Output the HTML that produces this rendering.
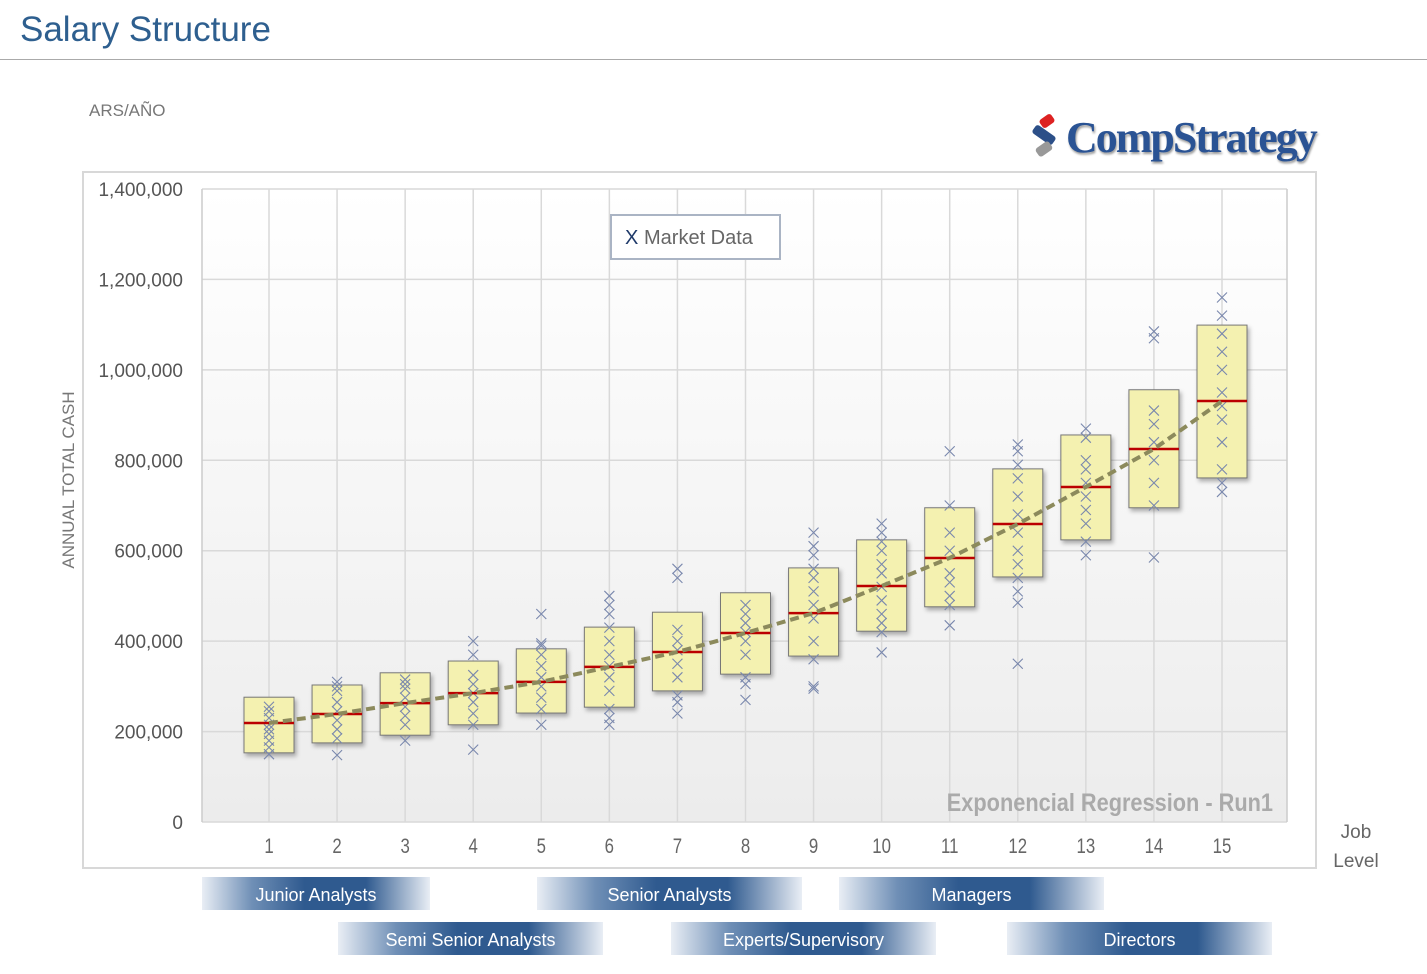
<!DOCTYPE html>
<html><head><meta charset="utf-8"><style>
body{margin:0;width:1427px;height:974px;background:#fff;font-family:"Liberation Sans",sans-serif;overflow:hidden;position:relative}
.band{position:absolute;height:33px;color:#fff;font-size:18px;line-height:37px;text-align:center;background:linear-gradient(to right,#e9eef5 0%,#6f8fb6 22%,#2f5a8f 45%,#2f5a8f 72%,#e9eef5 100%)}
</style></head><body>
<div style="position:absolute;left:20px;top:10px;font-size:35px;color:#2e5f8f">Salary Structure</div>
<div style="position:absolute;left:0;top:59px;width:1427px;height:1px;background:#aaa"></div>
<div style="position:absolute;left:89px;top:101px;font-size:17px;color:#777">ARS/AÑO</div>
<div style="position:absolute;left:1030px;top:112px;height:50px;display:flex;align-items:center">
<svg width="36" height="46" viewBox="0 0 36 46"><rect x="10" y="2" width="14" height="10" rx="3" transform="rotate(-35 17 7)" fill="#d22"/><rect x="2" y="16" width="24" height="10" rx="3" transform="rotate(35 14 21)" fill="#2c4f88"/><rect x="6" y="30" width="16" height="10" rx="3" transform="rotate(-35 14 35)" fill="#999"/></svg>
<span style="font-family:'Liberation Serif',serif;font-weight:bold;font-size:44px;color:#2a5394;letter-spacing:-2px;text-shadow:1px 2px 2px #999">CompStrategy</span></div>
<svg id="chart" width="1427" height="974" style="position:absolute;left:0;top:0">
<defs><linearGradient id="pg" x1="0" y1="0" x2="0" y2="1"><stop offset="0" stop-color="#fff"/><stop offset="1" stop-color="#ececec"/></linearGradient></defs>
<rect x="83" y="172" width="1233" height="696" fill="#fff" stroke="#d8d8d8" stroke-width="2"/>
<rect x="202" y="189" width="1085" height="633" fill="url(#pg)"/>
<g id="grid"></g><g id="marks"></g>
<text x="74" y="480" transform="rotate(-90 74 480)" text-anchor="middle" font-size="17" fill="#777">ANNUAL TOTAL CASH</text>
<text x="1356" y="838" text-anchor="middle" font-size="19" fill="#666">Job</text>
<text x="1356" y="867" text-anchor="middle" font-size="19" fill="#666">Level</text>
<text x="1273" y="811" text-anchor="end" font-size="25" fill="#aaa" font-weight="bold" transform="scale(0.87 1)" transform-origin="1273 811">Exponencial Regression - Run1</text>
<rect x="611" y="215" width="169" height="44" fill="#fff" stroke="#aab4c4" stroke-width="2"/>
<text x="625" y="244" font-size="20" fill="#1f3a6a">X</text>
<text x="644" y="244" font-size="20" fill="#666">Market Data</text>
</svg>
<div class="band" style="left:202px;top:877px;width:228px">Junior Analysts</div>
<div class="band" style="left:537px;top:877px;width:265px">Senior Analysts</div>
<div class="band" style="left:839px;top:877px;width:265px">Managers</div>
<div class="band" style="left:338px;top:922px;width:265px">Semi Senior Analysts</div>
<div class="band" style="left:671px;top:922px;width:265px">Experts/Supervisory</div>
<div class="band" style="left:1007px;top:922px;width:265px">Directors</div>
<script>
const levels=[1,2,3,4,5,6,7,8,9,10,11,12,13,14,15];
const yTicks=[0,200000,400000,600000,800000,1000000,1200000,1400000];
const boxTop=[276,303,330,356,383,431,464,507,562,624,695,781,856,956,1099];
const boxBottom=[153,175,192,215,241,254,290,327,367,422,476,542,624,695,761];
const medians=[219,239,263,285,310,343,376,418,462,522,584,659,741,825,931];
const market=[
[150,165,180,195,205,215,230,245,255],
[148,185,205,225,245,265,290,300,310],
[180,215,235,255,275,295,305,315],
[160,215,240,265,285,305,325,370,400],
[215,250,275,300,320,345,370,390,395,460],
[215,230,250,290,320,345,370,400,430,460,480,500],
[240,265,280,320,350,380,400,425,540,560],
[270,305,320,370,400,420,440,460,480],
[295,300,360,400,450,480,510,540,560,590,610,640],
[375,420,440,460,490,520,550,570,600,620,640,660],
[435,480,500,530,550,600,640,700,820],
[350,485,510,540,570,600,640,680,720,760,790,820,835],
[590,620,660,690,720,750,780,800,850,870],
[585,700,750,800,840,880,910,1070,1085],
[730,750,780,840,890,920,950,1000,1040,1080,1120,1160]];
const NS="http://www.w3.org/2000/svg";
const X=l=>269+(l-1)*(1222-269)/14;
const Y=v=>822-v*(633/1400000);
function mk(t,a,p){const e=document.createElementNS(NS,t);for(const k in a)e.setAttribute(k,a[k]);p.appendChild(e);return e;}
const g=document.getElementById('grid'),m=document.getElementById('marks');
yTicks.forEach(v=>{const l=mk('line',{x1:202,x2:1287,y1:Y(v),y2:Y(v),stroke:'#d9d9d9','stroke-width':1.5},g);


const t=mk('text',{x:183,y:Y(v)+7,'text-anchor':'end','font-size':19,fill:'#555'},g);t.textContent=v.toLocaleString('en-US');

});
levels.forEach(lv=>{const l=mk('line',{x1:X(lv),x2:X(lv),y1:189,y2:822,stroke:'#d9d9d9','stroke-width':1.5},g);

});
[202,1287].forEach(x=>{const l=mk('line',{x1:x,x2:x,y1:189,y2:822,stroke:'#ccc','stroke-width':1.5},g);

});
levels.forEach((lv,i)=>{const x=X(lv);
const r=mk('rect',{x:x-25,y:Y(boxTop[i]*1000),width:50,height:Y(boxBottom[i]*1000)-Y(boxTop[i]*1000),fill:'#f4f1b0',stroke:'#777','stroke-width':1,style:'filter:drop-shadow(2px 3px 2px rgba(0,0,0,.3))'},m);


const t=mk('text',{x:x,y:853,'text-anchor':'middle','font-size':21,fill:'#666',transform:`scale(0.8 1)`,'transform-origin':`${x} 853`},m);t.textContent=lv;

});
levels.forEach((lv,i)=>{market[i].forEach(v=>{const x=X(lv),y=Y(v*1000);
const p=mk('path',{d:`M${x-5} ${y-5}L${x+5} ${y+5}M${x+5} ${y-5}L${x-5} ${y+5}`,stroke:'#7a88ad','stroke-width':1.1,fill:'none'},m);

});});
levels.forEach((lv,i)=>{const x=X(lv),y=Y(medians[i]*1000);
const l=mk('line',{x1:x-25,x2:x+25,y1:y,y2:y,stroke:'#b00',"stroke-width":2.5},m);

});
const tr=mk('polyline',{points:levels.map((lv,i)=>X(lv)+','+Y(medians[i]*1000)).join(' '),fill:'none',stroke:'#8c8a5c','stroke-width':4,'stroke-dasharray':'9 5'},m);


</script>
</body></html>
